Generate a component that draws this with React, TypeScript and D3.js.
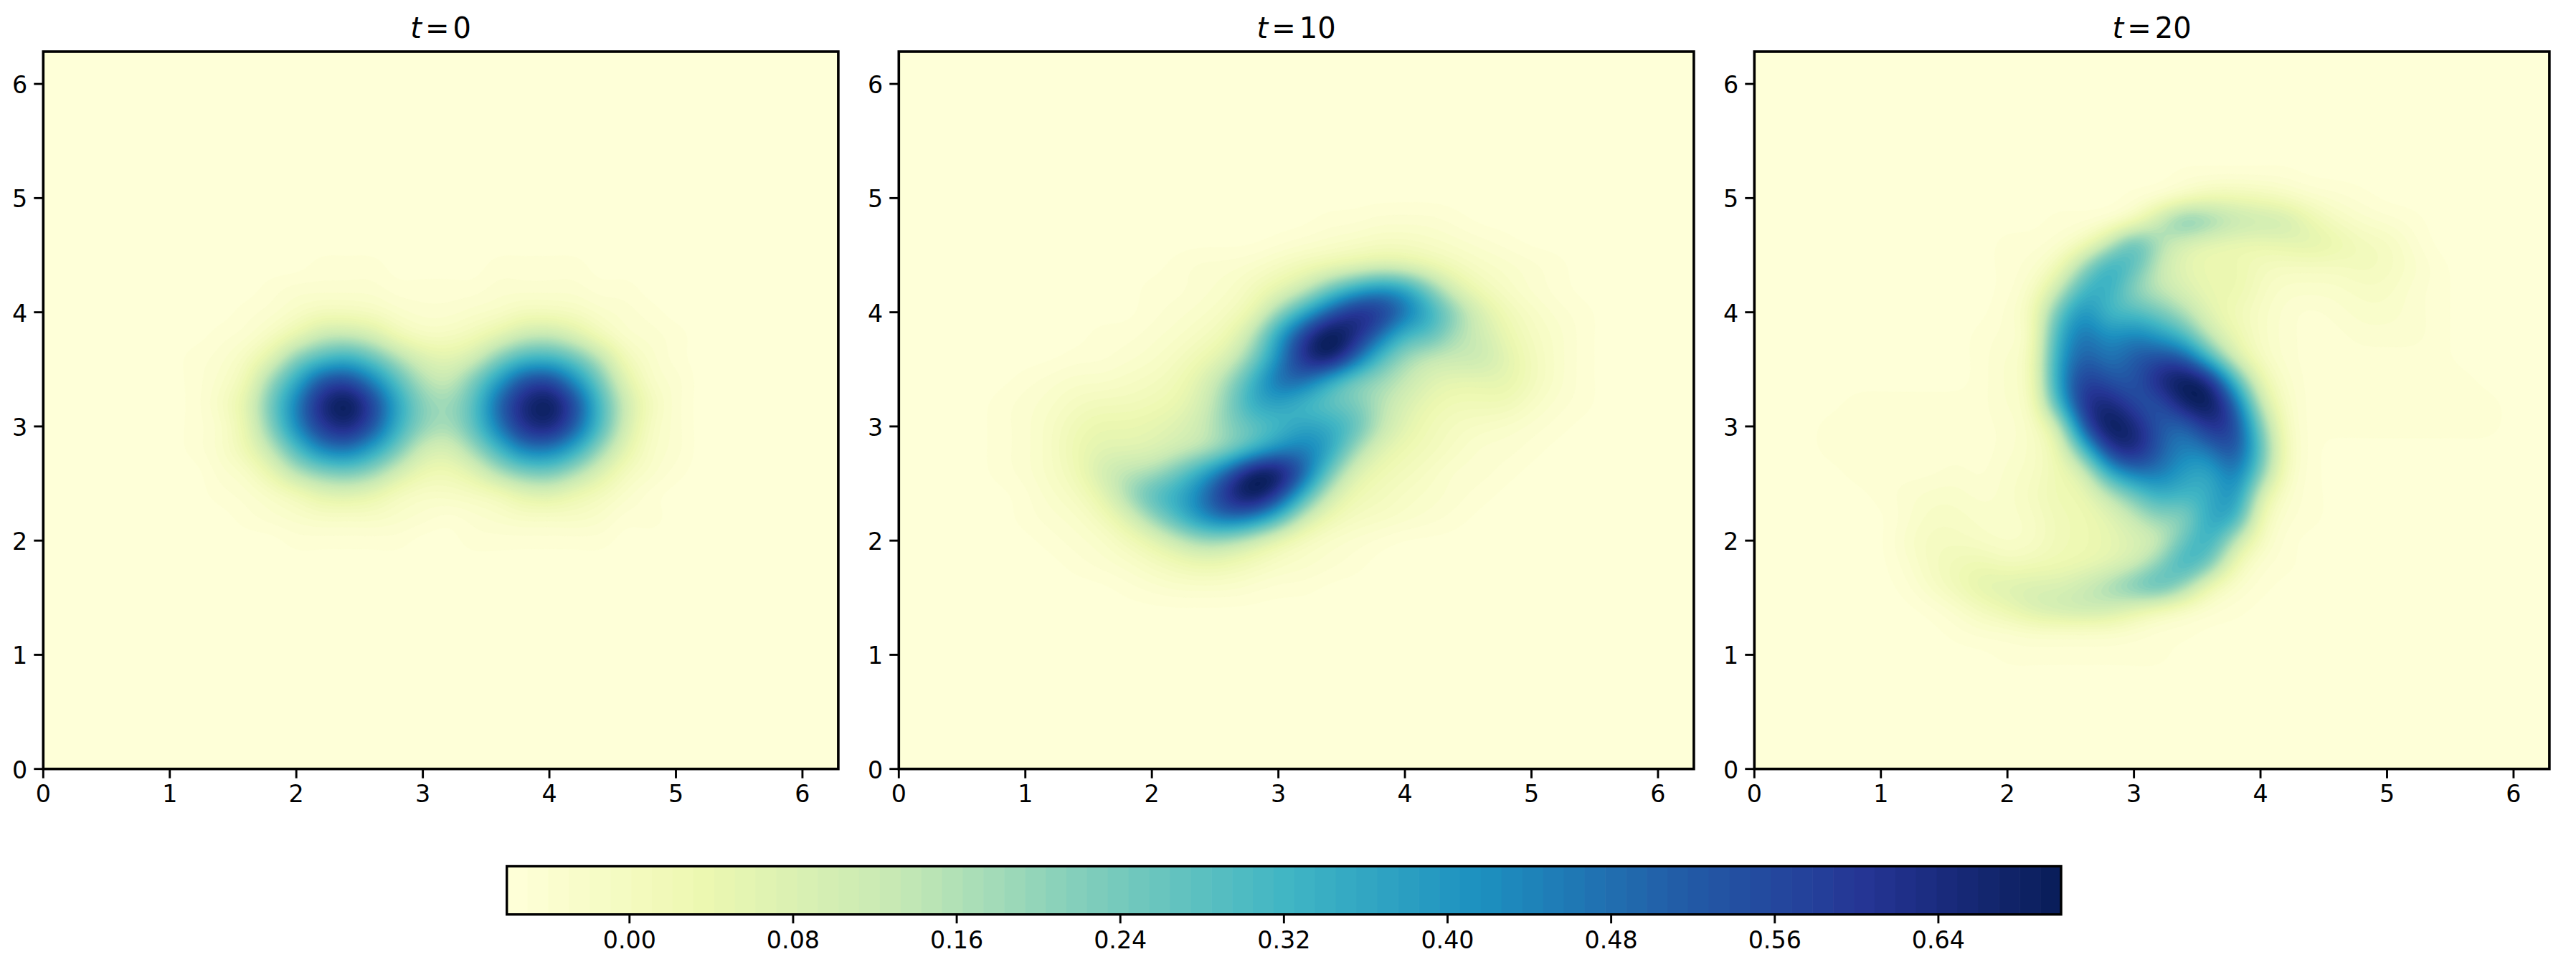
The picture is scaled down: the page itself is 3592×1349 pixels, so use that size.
import React, { useMemo } from "react";
import * as d3 from "d3";

// Field values in hundredths on a 0.2 grid.
// Rows run top to bottom, from the y named in each *_TOP; columns start at each *_LEFT.
const T0_LEFT = 1.0, T0_TOP = 4.4;
const fieldT0 = [
  [0,0,0,0,0,0,1,1,1,0,0,0,0,1,1,1,1,0,0,0,0,0],
  [0,0,0,0,1,2,2,2,2,1,1,1,1,2,2,2,2,1,1,0,0,0],
  [0,0,0,1,2,4,6,6,5,3,2,2,3,4,6,6,5,3,2,1,0,0],
  [0,0,1,2,5,10,16,17,14,8,5,5,7,11,16,17,13,7,3,2,1,0],
  [0,1,2,5,12,24,32,35,29,20,13,11,15,25,33,34,28,18,7,3,1,0],
  [0,1,3,8,22,37,52,55,45,31,20,17,26,40,53,55,43,27,12,4,2,0],
  [0,1,4,11,27,45,62,68,56,38,25,22,31,49,63,67,54,33,16,6,2,0],
  [0,1,3,10,25,43,58,63,53,36,24,21,30,46,60,63,51,32,15,5,2,0],
  [0,1,3,8,18,32,44,47,39,27,16,14,22,34,45,46,37,23,11,4,2,0],
  [0,0,2,4,10,19,25,27,23,15,9,8,12,20,26,27,21,13,6,3,1,0],
  [0,0,1,2,4,7,11,12,10,6,4,4,5,7,11,12,9,6,3,1,0,0],
  [0,0,0,1,2,3,4,4,4,3,2,1,2,3,4,4,4,3,1,1,0,0],
  [0,0,0,0,0,1,1,1,1,1,0,0,1,1,1,1,1,1,0,0,0,0],
];

const T10_LEFT = 0.8, T10_TOP = 4.8;
const fieldT10 = [
  [0,0,0,0,0,0,0,0,0,0,0,0,0,1,1,2,2,2,1,0,0,0,0,0,0],
  [0,0,0,0,0,0,0,0,0,0,0,1,2,3,4,5,5,4,3,2,1,0,0,0,0],
  [0,0,0,0,0,0,0,1,2,2,3,5,7,9,11,13,12,9,6,4,3,2,1,0,0],
  [0,0,0,0,0,0,1,1,2,3,6,10,16,27,36,42,38,25,13,7,4,2,1,0,0],
  [0,0,0,0,0,0,1,2,3,5,9,22,36,50,60,58,47,35,23,13,7,4,2,1,0],
  [0,0,0,0,1,1,2,3,5,8,18,38,56,69,62,48,33,30,20,15,9,5,3,1,0],
  [0,0,0,1,1,2,3,5,8,13,25,42,60,66,50,32,22,17,16,16,11,6,3,1,0],
  [0,1,2,3,3,4,5,7,12,21,34,48,48,36,26,22,17,12,10,10,10,6,3,1,0],
  [1,2,3,5,6,6,7,9,14,24,36,38,33,29,26,19,13,9,7,7,7,4,2,1,0],
  [1,2,4,7,9,9,10,12,16,24,29,33,38,36,30,18,11,7,5,4,3,2,1,0,0],
  [1,2,4,8,11,11,12,15,18,24,33,42,45,38,22,12,8,6,4,2,2,1,0,0,0],
  [1,2,4,7,14,18,20,27,37,50,66,66,50,28,13,8,6,4,2,2,1,0,0,0,0],
  [0,1,3,5,10,20,30,36,46,60,68,56,34,16,8,6,4,3,2,1,0,0,0,0,0],
  [0,1,2,3,6,12,22,32,42,48,44,32,16,8,5,4,3,2,1,0,0,0,0,0,0],
  [0,0,1,2,3,6,10,16,21,20,15,9,5,3,2,1,0,0,0,0,0,0,0,0,0],
  [0,0,0,1,2,3,5,7,9,8,6,4,3,2,1,0,0,0,0,0,0,0,0,0,0],
  [0,0,0,0,0,1,2,3,3,3,2,1,1,0,0,0,0,0,0,0,0,0,0,0,0],
];

const T20_LEFT = 0.4, T20_TOP = 5.2;
const fieldT20 = [
  [0,0,0,0,0,0,0,0,0,0,0,0,0,0,0,1,1,1,1,1,0,0,0,0,0,0,0,0,0],
  [0,0,0,0,0,0,0,0,0,0,0,0,0,1,2,5,8,8,7,5,3,2,1,0,0,0,0,0,0],
  [0,0,0,0,0,0,0,0,0,0,1,1,2,6,17,27,23,18,16,15,9,5,3,2,1,0,0,0,0],
  [0,0,0,0,0,0,0,0,1,1,2,6,17,31,20,13,10,9,9,10,11,9,6,5,2,0,0,0,0],
  [0,0,0,0,0,0,0,0,1,2,7,22,36,30,17,11,9,9,6,5,5,5,6,5,3,1,0,0,0],
  [0,0,0,0,0,0,0,0,1,4,16,34,36,24,18,13,9,9,5,3,3,3,4,4,2,1,0,0,0],
  [0,0,0,0,0,0,0,0,2,6,28,43,33,32,27,20,11,7,4,2,1,2,3,3,2,1,0,0,0],
  [0,0,0,0,0,0,0,1,2,5,35,48,42,45,40,32,17,9,4,2,1,1,2,2,2,1,0,0,0],
  [0,0,0,0,0,0,0,1,3,6,38,52,47,52,55,52,33,14,5,2,1,1,1,1,1,1,0,0,0],
  [0,0,0,0,0,0,0,1,3,6,39,58,54,53,63,69,62,33,10,3,1,1,1,1,1,1,1,0,0],
  [0,0,1,1,1,1,1,1,3,5,33,60,64,56,54,66,69,50,17,4,1,1,1,1,1,1,1,1,0],
  [0,1,1,1,1,1,1,1,2,4,15,52,69,64,53,50,61,56,26,5,1,1,1,1,1,1,1,1,0],
  [0,1,1,1,1,1,1,1,2,4,9,32,58,64,52,45,48,55,30,6,1,0,0,0,0,0,0,0,0],
  [0,0,1,1,1,1,2,1,3,4,8,14,37,47,47,40,38,48,26,5,1,0,0,0,0,0,0,0,0],
  [0,0,0,1,2,3,3,2,3,5,8,9,18,28,36,34,36,43,14,3,1,0,0,0,0,0,0,0,0],
  [0,0,0,0,2,4,4,3,3,4,7,8,11,17,24,24,38,36,8,2,1,0,0,0,0,0,0,0,0],
  [0,0,0,0,3,5,5,4,3,4,7,8,10,13,16,29,36,18,5,1,0,0,0,0,0,0,0,0,0],
  [0,0,0,0,2,5,7,8,6,7,8,9,11,15,24,35,27,8,2,1,0,0,0,0,0,0,0,0,0],
  [0,0,0,0,1,4,7,11,12,13,13,16,21,27,31,22,8,3,1,0,0,0,0,0,0,0,0,0,0],
  [0,0,0,0,0,1,3,6,9,13,15,16,15,11,7,4,2,1,0,0,0,0,0,0,0,0,0,0,0],
  [0,0,0,0,0,0,1,2,2,3,3,3,3,2,1,1,0,0,0,0,0,0,0,0,0,0,0,0,0],
  [0,0,0,0,0,0,0,0,1,1,1,1,1,1,1,0,0,0,0,0,0,0,0,0,0,0,0,0,0],
];

const panelTimes = ["0", "10", "20"];
const panelFields = [fieldT0, fieldT10, fieldT20];
const panelLefts = [T0_LEFT, T10_LEFT, T20_LEFT];
const panelTops = [T0_TOP, T10_TOP, T20_TOP];
const panelSoftness = [3, 5, 5];
const panelPeaks = [0.685, 0.695, 0.695];
const axisTicks = [0, 1, 2, 3, 4, 5, 6];
const colorbarTicks = [0, 0.08, 0.16, 0.24, 0.32, 0.4, 0.48, 0.56, 0.64];
const colormapStops = ["#ffffd9", "#edf8b1", "#c7e9b4", "#7fcdbb", "#41b6c4", "#1d91c0", "#225ea8", "#253494", "#081d58"];

const GRID_STEP = 0.2;
const FIELD_MAX = 0.7;
const BAR_MIN = -0.06;
const BAR_MAX = 0.7;
const BAR_BANDS = 75;
const PANEL_BAND = (BAR_MAX - BAR_MIN) / BAR_BANDS;
const FINE = 420;
const TAU = 2 * Math.PI;

const PANEL_X = [60.3, 1253.3, 2446.3];
const PANEL_W = 1108.6;
const PANEL_TOP = 72;
const PANEL_BOTTOM = 1072.7;
const BAR = { left: 706.7, right: 2874, top: 1208.5, bottom: 1275.7 };
const FONT = "'DejaVu Sans', sans-serif";
const TICK_SIZE = 33.3;
const LW = 3.6;

function colormap(lo: number, hi: number) {
  const pos = colormapStops.map((_, i) => lo + ((hi - lo) * i) / (colormapStops.length - 1));
  return d3.scaleLinear<string>().domain(pos).range(colormapStops).interpolate(d3.interpolateRgb).clamp(true);
}

function catmull(p0: number, p1: number, p2: number, p3: number, t: number) {
  return 0.5 * (2 * p1 + (p2 - p0) * t + (2 * p0 - 5 * p1 + 4 * p2 - p3) * t * t + (3 * p1 - p0 - 3 * p2 + p3) * t * t * t);
}

function resample(grid: number[][], left: number, top: number, soft: number, peak: number) {
  const at = (r: number, c: number) => (r < 0 || r >= grid.length || c < 0 || c >= grid[0].length ? 0 : grid[r][c]);
  const out = new Float64Array(FINE * FINE);
  for (let j = 0; j < FINE; j++) {
    const y = ((j + 0.5) / FINE) * TAU;
    const rr = (top - y) / GRID_STEP;
    const r = Math.floor(rr);
    const tr = rr - r;
    if (r < -2 || r > grid.length + 1) continue;
    for (let i = 0; i < FINE; i++) {
      const x = ((i + 0.5) / FINE) * TAU;
      const cc = (x - left) / GRID_STEP;
      const c = Math.floor(cc);
      if (c < -2 || c > grid[0].length + 1) continue;
      const tc = cc - c;
      const rows = [-1, 0, 1, 2].map((d) =>
        catmull(at(r + d, c - 1), at(r + d, c), at(r + d, c + 1), at(r + d, c + 2), tc)
      );
      out[i + j * FINE] = Math.max(0, catmull(rows[0], rows[1], rows[2], rows[3], tr) / 100);
    }
  }
  d3.blur2({ data: out as any, width: FINE, height: FINE }, soft);
  const top1 = d3.max(out as any) as number;
  for (let k = 0; k < out.length; k++) out[k] = (out[k] * peak) / top1;
  return out;
}

function Panel({ index }: { index: number }) {
  const left = PANEL_X[index];
  const x = d3.scaleLinear().domain([0, TAU]).range([left, left + PANEL_W]);
  const y = d3.scaleLinear().domain([0, TAU]).range([PANEL_BOTTOM, PANEL_TOP]);
  const color = colormap(0, FIELD_MAX);
  const layers = useMemo(() => {
    const values = resample(panelFields[index], panelLefts[index], panelTops[index], panelSoftness[index], panelPeaks[index]);
    const n = Math.floor(FIELD_MAX / PANEL_BAND);
    const thresholds = d3.range(1, n + 1).map((k) => (k - 0.5) * PANEL_BAND);
    const gen = d3.contours().size([FINE, FINE]).thresholds(thresholds);
    const path = d3.geoPath(
      d3.geoTransform({
        point(px: number, py: number) {
          (this as any).stream.point(x((px / FINE) * TAU), y((py / FINE) * TAU));
        },
      })
    );
    return gen(values as any)
      .filter((c) => c.coordinates.length > 0)
      .map((c) => ({ d: path(c as any) as string, fill: color(c.value + 0.5 * PANEL_BAND) }));
  }, [index]);

  const cx = left + PANEL_W / 2;
  return (
    <g>
      <rect x={left} y={PANEL_TOP} width={PANEL_W} height={PANEL_BOTTOM - PANEL_TOP} fill={color(0.003)} />
      {layers.map((l, i) => (
        <path key={i} d={l.d} fill={l.fill} stroke={l.fill} strokeWidth={0.4} />
      ))}
      <rect x={left} y={PANEL_TOP} width={PANEL_W} height={PANEL_BOTTOM - PANEL_TOP} fill="none" stroke="#000" strokeWidth={LW} />
      {axisTicks.map((t) => (
        <g key={t}>
          <line x1={x(t)} x2={x(t)} y1={PANEL_BOTTOM} y2={PANEL_BOTTOM + 13} stroke="#000" strokeWidth={2.9} />
          <text x={x(t)} y={1119.3} textAnchor="middle" fontFamily={FONT} fontSize={TICK_SIZE} fill="#000">{t}</text>
          <line x1={left - 13} x2={left} y1={y(t)} y2={y(t)} stroke="#000" strokeWidth={2.9} />
          <text x={left - 22} y={y(t) + 13} textAnchor="end" fontFamily={FONT} fontSize={TICK_SIZE} fill="#000">{t}</text>
        </g>
      ))}
      <text x={cx} y={53} textAnchor="middle" fontFamily={FONT} fontSize={40} fill="#000">
        <tspan fontStyle="italic">t</tspan>
        <tspan dx={5}>=</tspan>
        <tspan dx={5}>{panelTimes[index]}</tspan>
      </text>
    </g>
  );
}

function Colorbar() {
  const s = d3.scaleLinear().domain([BAR_MIN, BAR_MAX]).range([BAR.left, BAR.right]);
  const color = colormap(BAR_MIN, BAR_MAX);
  const edges = d3.range(BAR_BANDS + 1).map((i) => BAR_MIN + i * PANEL_BAND);
  return (
    <g>
      {edges.slice(0, -1).map((e, i) => (
        <rect key={i} x={s(e)} y={BAR.top} width={s(edges[i + 1]) - s(e) + 0.6} height={BAR.bottom - BAR.top} fill={color((e + edges[i + 1]) / 2)} />
      ))}
      <rect x={BAR.left} y={BAR.top} width={BAR.right - BAR.left} height={BAR.bottom - BAR.top} fill="none" stroke="#000" strokeWidth={3.4} />
      {colorbarTicks.map((t) => (
        <g key={t}>
          <line x1={s(t)} x2={s(t)} y1={BAR.bottom} y2={BAR.bottom + 12.5} stroke="#000" strokeWidth={2.9} />
          <text x={s(t)} y={1322.7} textAnchor="middle" fontFamily={FONT} fontSize={TICK_SIZE} fill="#000">{d3.format(".2f")(t)}</text>
        </g>
      ))}
    </g>
  );
}

export default function App() {
  return (
    <svg width={3592} height={1349} viewBox="0 0 3592 1349" style={{ position: "absolute", left: 0, top: 0, background: "#fff" }}>
      {panelTimes.map((_, i) => (
        <Panel key={i} index={i} />
      ))}
      <Colorbar />
    </svg>
  );
}
